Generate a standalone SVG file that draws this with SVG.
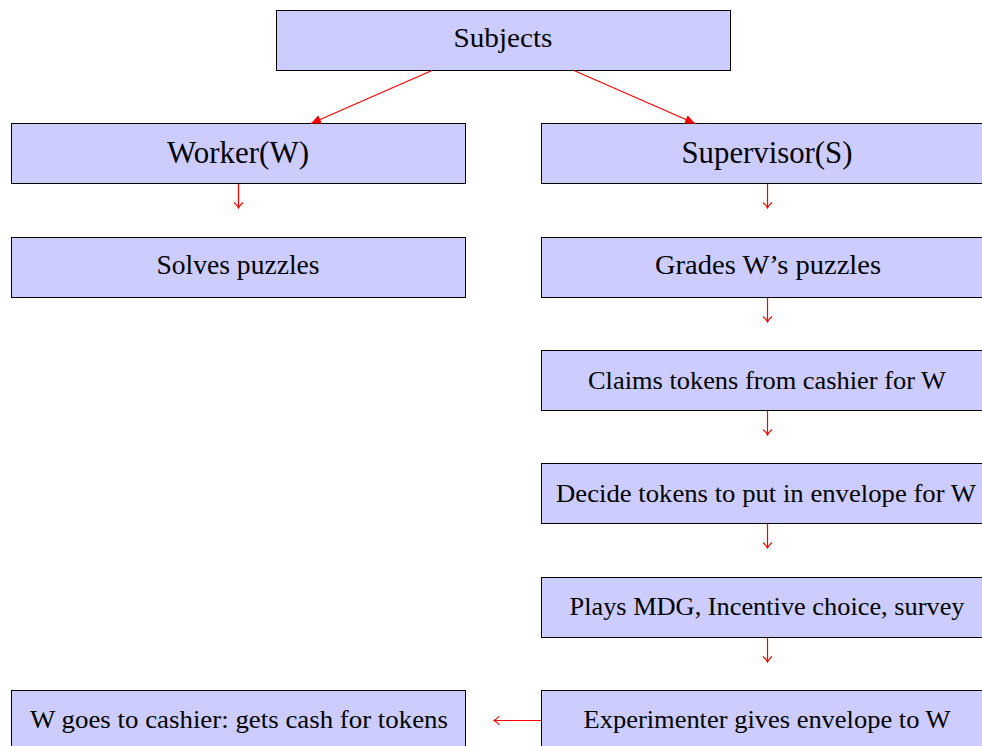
<svg xmlns="http://www.w3.org/2000/svg" width="982" height="746" viewBox="0 0 982 746">
<style>
.box{fill:#ccccff;stroke:#000;stroke-width:1}
text{fill:#000;text-anchor:middle}
.big{font-size:31px}
.mid{font-size:28px}
.sm{font-size:25.5px}
.c{stroke:#ff0000;stroke-width:1.2;fill:none}
</style>
<defs>
<marker id="tri" markerWidth="12" markerHeight="10" refX="10" refY="5" orient="auto" markerUnits="userSpaceOnUse">
<path d="M0,0.5 L10,5 L0,9.5 Z" fill="#ff0000"/>
</marker>
<marker id="to" markerWidth="10" markerHeight="12" refX="7" refY="6" orient="auto" markerUnits="userSpaceOnUse">
<path d="M1.5,1.5 Q4,4.5 7,6 Q4,7.5 1.5,10.5" fill="none" stroke="#ff0000" stroke-width="1.1"/>
</marker>
</defs>
<g font-family="'Liberation Serif', serif">
<g id="subjects"><rect class="box" x="276.5" y="10.5" width="454" height="60"/><text class="mid" x="503" y="47" textLength="99" lengthAdjust="spacingAndGlyphs">Subjects</text></g>
<g id="worker"><rect class="box" x="11.5" y="123.5" width="454" height="60"/><text class="big" x="238" y="163" textLength="142" lengthAdjust="spacingAndGlyphs">Worker(W)</text></g>
<g id="supervisor"><rect class="box" x="541.5" y="123.5" width="454" height="60"/><text class="big" x="767" y="163" textLength="171" lengthAdjust="spacingAndGlyphs">Supervisor(S)</text></g>
<g id="solves"><rect class="box" x="11.5" y="237.5" width="454" height="60"/><text class="mid" x="238" y="274" textLength="163" lengthAdjust="spacingAndGlyphs">Solves puzzles</text></g>
<g id="grades"><rect class="box" x="541.5" y="237.5" width="454" height="60"/><text class="mid" x="768" y="274" textLength="226" lengthAdjust="spacingAndGlyphs">Grades W’s puzzles</text></g>
<g id="claims"><rect class="box" x="541.5" y="350.5" width="454" height="60"/><text class="sm" x="767" y="389" textLength="358" lengthAdjust="spacingAndGlyphs">Claims tokens from cashier for W</text></g>
<g id="decide"><rect class="box" x="541.5" y="463.5" width="454" height="60"/><text class="sm" x="766" y="502" textLength="420" lengthAdjust="spacingAndGlyphs">Decide tokens to put in envelope for W</text></g>
<g id="plays"><rect class="box" x="541.5" y="577.5" width="454" height="60"/><text class="sm" x="767" y="615" textLength="395" lengthAdjust="spacingAndGlyphs">Plays MDG, Incentive choice, survey</text></g>
<g id="experimenter"><rect class="box" x="541.5" y="690.5" width="454" height="60"/><text class="sm" x="767" y="728" textLength="367" lengthAdjust="spacingAndGlyphs">Experimenter gives envelope to W</text></g>
<g id="cashier"><rect class="box" x="11.5" y="690.5" width="454" height="60"/><text class="sm" x="239" y="728" textLength="418" lengthAdjust="spacingAndGlyphs">W goes to cashier: gets cash for tokens</text></g>
</g>
<g id="connectors">
<line class="c" x1="432" y1="70.5" x2="311" y2="123.5" marker-end="url(#tri)"/>
<line class="c" x1="574" y1="70.5" x2="695" y2="123.5" marker-end="url(#tri)"/>
<line class="c" x1="238.5" y1="184" x2="238.5" y2="208" marker-end="url(#to)"/>
<line class="c" x1="767.5" y1="184" x2="767.5" y2="208" marker-end="url(#to)"/>
<line class="c" x1="767.5" y1="298" x2="767.5" y2="322" marker-end="url(#to)"/>
<line class="c" x1="767.5" y1="411" x2="767.5" y2="435" marker-end="url(#to)"/>
<line class="c" x1="767.5" y1="524" x2="767.5" y2="548" marker-end="url(#to)"/>
<line class="c" x1="767.5" y1="638" x2="767.5" y2="662" marker-end="url(#to)"/>
<line class="c" x1="541" y1="720.5" x2="494" y2="720.5" marker-end="url(#to)"/>
</g>
</svg>
